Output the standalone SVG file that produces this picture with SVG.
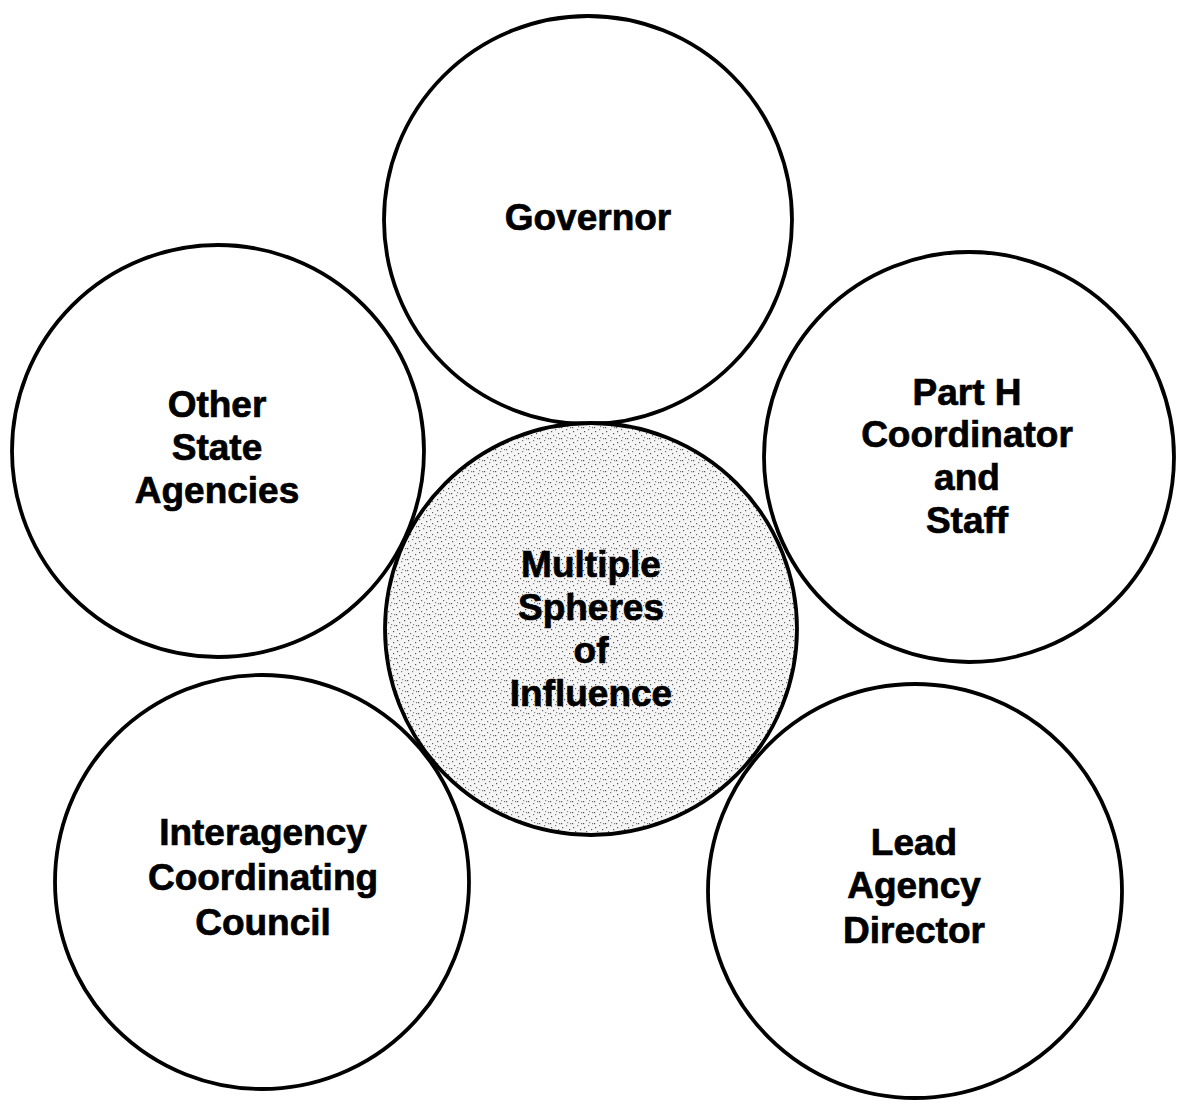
<svg xmlns="http://www.w3.org/2000/svg" width="1181" height="1103" viewBox="0 0 1181 1103">
  <style>
    .sphere { fill: #ffffff; stroke: #000000; stroke-width: 3.8; }
    .core { fill: url(#stipple); stroke: #000000; stroke-width: 3.8; }
    .label { font-family: "Liberation Sans", Arial, Helvetica, sans-serif; font-weight: bold; font-size: 37px; fill: #000000; stroke: #000000; stroke-width: 0.7; text-anchor: middle; }
  </style>
  <defs>
    <!-- light dotted screen used for the central sphere -->
    <pattern id="stipple" patternUnits="userSpaceOnUse" width="11" height="11">
      <rect width="11" height="11" fill="#f5f5f5"/>
      <rect x="1" y="2" width="1.2" height="1.2" fill="#555"/>
      <rect x="5" y="0" width="1.2" height="1.2" fill="#777"/>
      <rect x="8" y="4" width="1.2" height="1.2" fill="#555"/>
      <rect x="3" y="6" width="1.2" height="1.2" fill="#666"/>
      <rect x="9" y="9" width="1.2" height="1.2" fill="#777"/>
      <rect x="0" y="9" width="1.2" height="1.2" fill="#555"/>
      <rect x="6" y="8" width="1.2" height="1.2" fill="#888"/>
    </pattern>
  </defs>

  <g id="governor">
    <circle class="sphere" cx="588" cy="220" r="204"/>
    <text class="label" x="588" y="230">Governor</text>
  </g>

  <g id="other-state-agencies">
    <circle class="sphere" cx="218" cy="451" r="206"/>
    <text class="label" x="217" y="417">Other</text>
    <text class="label" x="217" y="460">State</text>
    <text class="label" x="217" y="503">Agencies</text>
  </g>

  <g id="part-h-coordinator">
    <circle class="sphere" cx="969" cy="457" r="205"/>
    <text class="label" x="967" y="405">Part H</text>
    <text class="label" x="967" y="447">Coordinator</text>
    <text class="label" x="967" y="490">and</text>
    <text class="label" x="967" y="533">Staff</text>
  </g>

  <g id="interagency-council">
    <circle class="sphere" cx="262" cy="882" r="207"/>
    <text class="label" x="263" y="845">Interagency</text>
    <text class="label" x="263" y="890">Coordinating</text>
    <text class="label" x="263" y="935">Council</text>
  </g>

  <g id="lead-agency-director">
    <circle class="sphere" cx="915" cy="891" r="207"/>
    <text class="label" x="914" y="855">Lead</text>
    <text class="label" x="914" y="898">Agency</text>
    <text class="label" x="914" y="943">Director</text>
  </g>

  <!-- central sphere drawn last so it sits over the neighbouring outlines -->
  <g id="multiple-spheres">
    <circle class="core" cx="591" cy="629" r="206"/>
    <text class="label" x="591" y="577">Multiple</text>
    <text class="label" x="591" y="620">Spheres</text>
    <text class="label" x="591" y="663">of</text>
    <text class="label" x="591" y="706">Influence</text>
  </g>
</svg>
